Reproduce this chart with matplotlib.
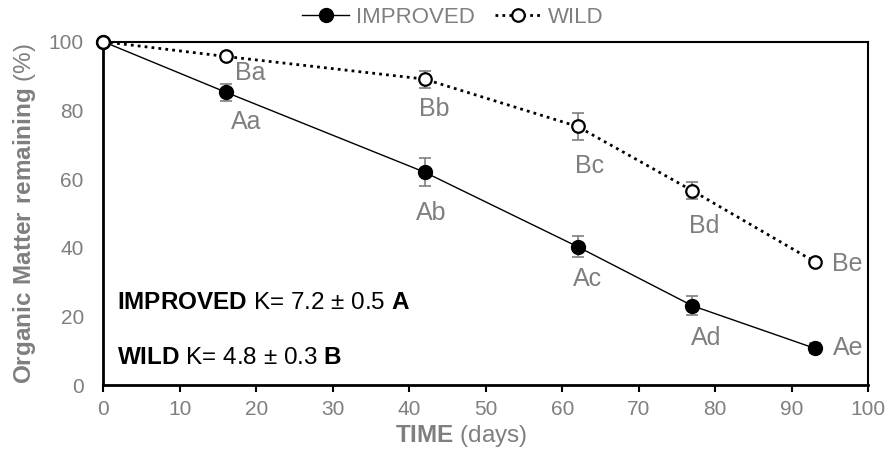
import matplotlib
matplotlib.use("Agg")
import matplotlib.pyplot as plt

plt.rcParams['font.family'] = ['Liberation Sans', 'DejaVu Sans']
plt.rcParams['mathtext.fontset'] = 'custom'
plt.rcParams['mathtext.rm'] = 'Liberation Sans'
plt.rcParams['mathtext.bf'] = 'Liberation Sans:bold'

# data
days = [0, 16, 42, 62, 77, 93]
improved = [100, 85.3, 62.0, 40.3, 23.1, 10.7]
improved_err = [0, 2.5, 4.0, 3.0, 2.8, 1.5]
wild = [100, 95.7, 89.1, 75.3, 56.6, 35.9]
wild_err = [0, 1.0, 2.5, 4.0, 2.5, 1.0]
improved_letters = ['', 'Aa', 'Ab', 'Ac', 'Ad', 'Ae']
wild_letters = ['', 'Ba', 'Bb', 'Bc', 'Bd', 'Be']

# label offsets in pixels (dx, dy) from each point
improved_offs = [(0, 0), (21, -30), (7, -41), (10, -32), (14, -32), (33, 0)]
wild_offs = [(0, 0), (25, -17), (10, -30), (12, -40), (12, -35), (33, -2)]

GRAY = '#7f7f7f'

fig = plt.figure(figsize=(8.88, 4.53), dpi=100)
ax = fig.add_axes([0.1163, 0.15, 0.8615, 0.758])

ax.errorbar(days, wild, yerr=wild_err, fmt='none', ecolor=GRAY, elinewidth=1.2,
            capsize=4, capthick=1.2, zorder=2)
ax.errorbar(days, improved, yerr=improved_err, fmt='none', ecolor=GRAY, elinewidth=1.2,
            capsize=4, capthick=1.2, zorder=2)

i_line, = ax.plot(days, improved, linestyle='-', color='black', lw=1,
                  marker='o', markersize=10, markerfacecolor='black',
                  markeredgecolor='black', label='IMPROVED', zorder=3, clip_on=False)
w_line, = ax.plot(days, wild, linestyle=(0, (1, 1.5)), color='black', lw=2,
                  marker='o', markersize=9, markerfacecolor='white',
                  markeredgecolor='black', markeredgewidth=1.6, label='WILD', zorder=4,
                  clip_on=False)

for x, y, t, o in zip(days, improved, improved_letters, improved_offs):
    if t:
        ax.annotate(t, (x, y), xytext=o, textcoords='offset pixels', ha='center',
                    va='center', fontsize=18, color=GRAY)
for x, y, t, o in zip(days, wild, wild_letters, wild_offs):
    if t:
        ax.annotate(t, (x, y), xytext=o, textcoords='offset pixels', ha='center',
                    va='center', fontsize=18, color=GRAY)

ax.text(0.018, 0.24, r'$\bf{IMPROVED}$ K= 7.2 ± 0.5 $\bf{A}$', transform=ax.transAxes,
        fontsize=17.5, color='black', va='center', ha='left')
ax.text(0.018, 0.078, r'$\bf{WILD}$ K= 4.8 ± 0.3 $\bf{B}$', transform=ax.transAxes,
        fontsize=17.5, color='black', va='center', ha='left')

ax.set_xlim(0, 100)
ax.set_ylim(0, 100)
ax.set_xticks(range(0, 101, 10))
ax.set_yticks(range(0, 101, 20))
ax.tick_params(axis='x', direction='out', length=5, width=1.5, colors='black',
               labelcolor=GRAY, labelsize=15, pad=6)
ax.tick_params(axis='y', length=0, labelcolor=GRAY, labelsize=15, pad=14)

for s in ['left', 'bottom']:
    ax.spines[s].set_linewidth(2)
for s in ['top', 'right']:
    ax.spines[s].set_linewidth(1.5)

ax.set_xlabel(r'$\bf{TIME}$ (days)', fontsize=17.5, color=GRAY)
ax.xaxis.set_label_coords(0.468, -0.11)
ax.set_ylabel(r'$\bf{Organic\ Matter\ remaining}$ (%)', fontsize=17.5, color=GRAY, labelpad=8)

fig.legend(handles=[i_line, w_line], labels=['IMPROVED', 'WILD'], loc='center',
           bbox_to_anchor=(0.51, 0.962), ncol=2, frameon=False, fontsize=16,
           handlelength=2.1, handletextpad=0.3, columnspacing=0.9, labelcolor=GRAY)

fig.savefig('out.png', dpi=100)
